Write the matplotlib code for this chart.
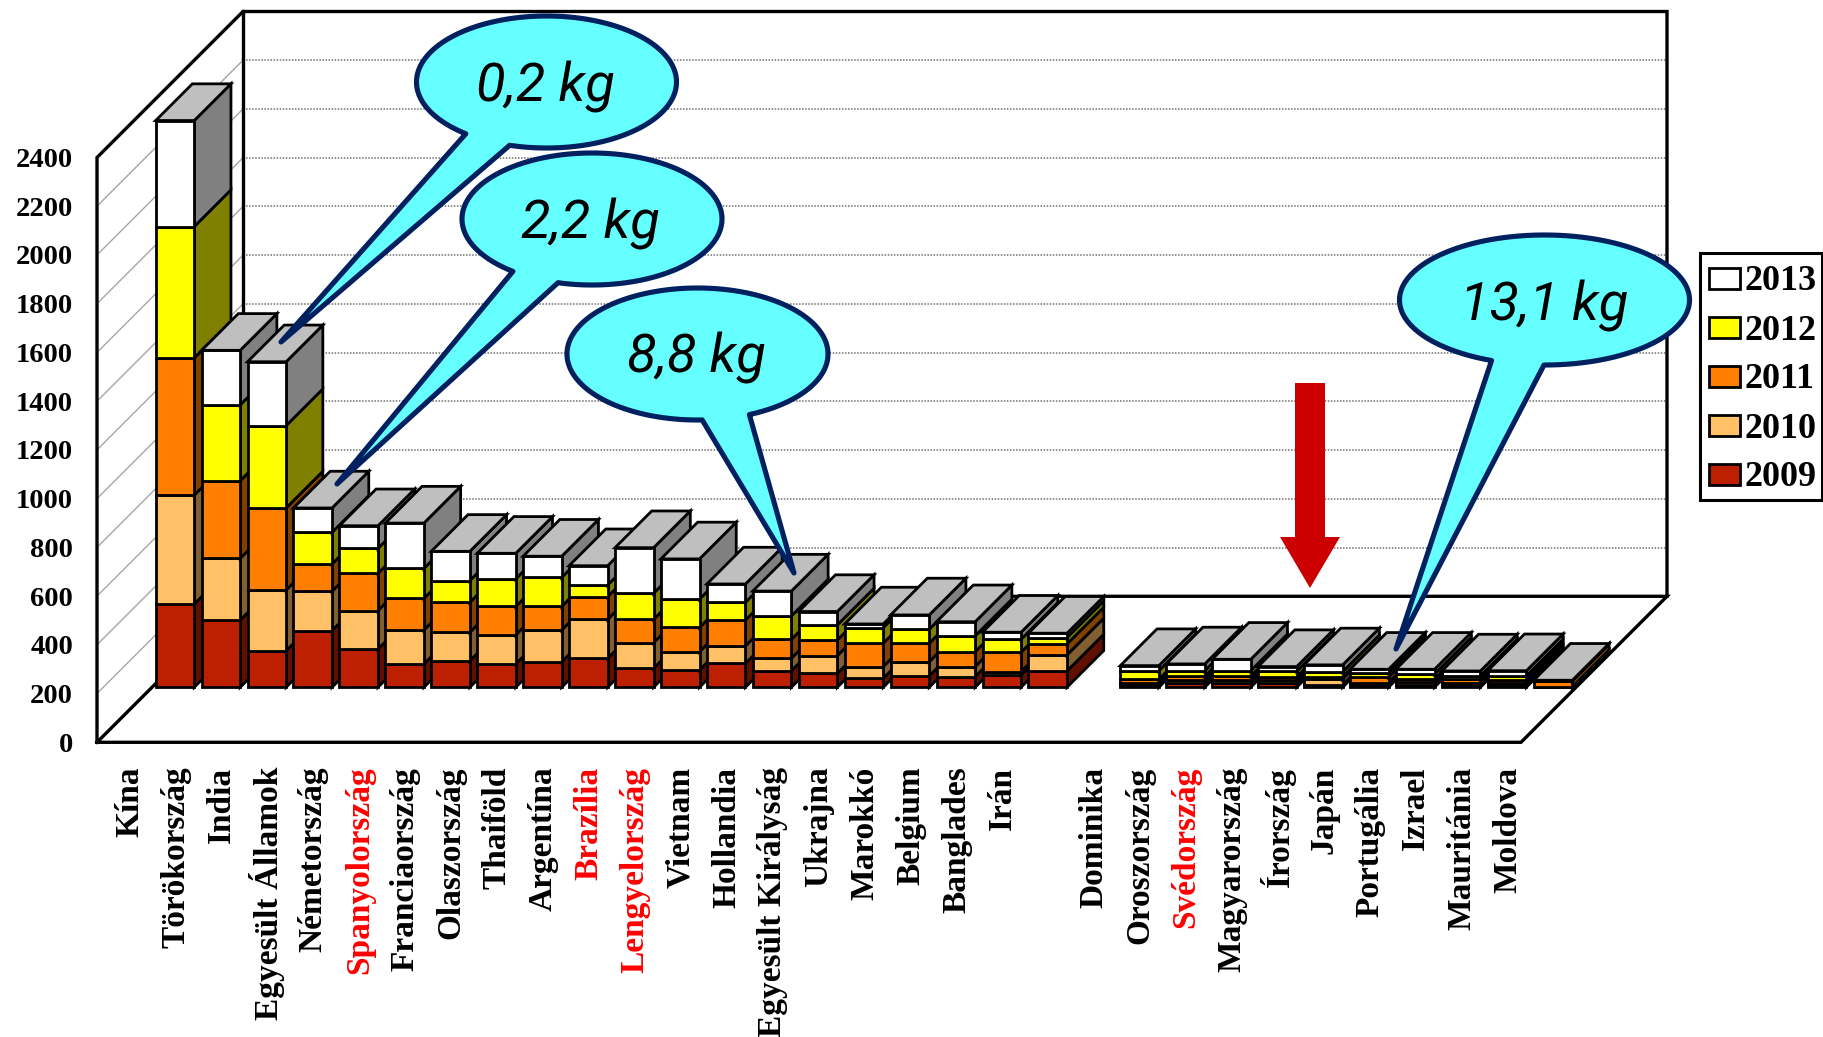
#Import packages
import numpy as np
import matplotlib
matplotlib.use("Agg")
import matplotlib.pyplot as plt
from matplotlib.patches import Polygon, Rectangle

#========================================================================================================
# Chart data
#========================================================================================================

categories = ["Kína", "Törökország", "India", "Egyesült Államok", "Németország", "Spanyolország",
              "Franciaország", "Olaszország", "Thaiföld", "Argentína", "Brazília", "Lengyelország",
              "Vietnam", "Hollandia", "Egyesült Királyság", "Ukrajna", "Marokkó", "Belgium", "Banglades",
              "Irán", "", "Dominika", "Oroszország", "Svédország", "Magyarország", "Írország", "Japán",
              "Portugália", "Izrael", "Mauritánia", "Moldova"]
red_labels = ["Spanyolország", "Brazília", "Lengyelország", "Svédország"]

values_2009 = [342, 276, 150, 233, 157, 96, 109, 96, 105, 119, 78, 71, 98, 68, 57, 37, 47, 44, 51, 67,
               0, 8, 16, 19, 16, 11, 11, 11, 11, 8, 1]
values_2010 = [447, 253, 249, 161, 158, 139, 117, 119, 130, 160, 105, 75, 72, 51, 73, 48, 58, 41, 13, 66,
               0, 8, 14, 11, 14, 23, 8, 9, 8, 10, 1]
values_2011 = [563, 319, 337, 112, 153, 130, 123, 117, 97, 93, 96, 100, 106, 78, 64, 96, 76, 61, 80, 45,
               0, 17, 16, 16, 14, 10, 23, 14, 14, 13, 25]
values_2012 = [539, 311, 338, 130, 102, 123, 89, 113, 119, 48, 107, 116, 73, 96, 62, 64, 57, 65, 53, 26,
               0, 35, 22, 22, 22, 20, 18, 20, 14, 16, 1]
values_2013 = [435, 224, 262, 100, 93, 186, 120, 105, 87, 79, 187, 165, 75, 102, 55, 15, 59, 58, 29, 18,
               0, 21, 28, 47, 19, 28, 14, 20, 20, 21, 1]

years = ["2009", "2010", "2011", "2012", "2013"]
series = [values_2009, values_2010, values_2011, values_2012, values_2013]

y_ticks = list(range(0, 2600, 200))

#========================================================================================================
# Styles and layout
#========================================================================================================

WIDTH, HEIGHT = 1823, 1037

#Oblique box layout, in output pixels
LEFT_PX = 97          #front left corner of the floor
FRONT_PX = 742.3      #front edge of the floor
PITCH = 1424 / 31     #pixels per category
PX_PER_UNIT = 584.8 / 2400
WALL_DEPTH = 146
BAR_NEAR = 55
BAR_FAR = 91.7
BAR_GAP = 0.08

front_colors = {"2009": "#BD2000", "2010": "#FFC066", "2011": "#FF8000", "2012": "#FFFF00", "2013": "#FFFFFF"}
side_colors = {"2009": "#5F1000", "2010": "#806033", "2011": "#804000", "2012": "#808000", "2013": "#808080"}
top_color = "#BFBFBF"
bar_lw = 2.0

serif = "Liberation Serif"
navy = "#002060"
cyan = "#66FFFF"


def project(x, value, depth):
    #Shift a floor position back along the box depth
    return (x + depth / PITCH, value + depth / PX_PER_UNIT)


def callout(axis, cx, cy, rx, ry, left, right, tip, label, text_xy):
    #Speech bubble: ellipse outline opened between two points, with a tail to the tip
    start = np.arctan2((left[1] - cy) / ry, (left[0] - cx) / rx)
    stop = np.arctan2((right[1] - cy) / ry, (right[0] - cx) / rx) + 2 * np.pi
    theta = np.linspace(start, stop, 200)
    outline = np.column_stack([cx + rx * np.cos(theta), cy + ry * np.sin(theta)])
    outline = np.vstack([outline, tip])
    axis.add_patch(Polygon(outline, closed=True, facecolor=cyan, edgecolor=navy, linewidth=3.7,
                           joinstyle="round", zorder=10))
    axis.text(text_xy[0], text_xy[1], label, family="Roboto", style="italic", fontsize=39,
              color="black", ha="center", va="center", zorder=11)


#========================================================================================================
# Create figure
#========================================================================================================

fig = plt.figure(figsize=(WIDTH / 100, HEIGHT / 100), dpi=100)

#Main axes: x in categories, y in chart units, zero at the front floor edge
ax = fig.add_axes([0, 0, 1, 1])
ax.set_xlim(-LEFT_PX / PITCH, (WIDTH - LEFT_PX) / PITCH)
ax.set_ylim(-(HEIGHT - FRONT_PX) / PX_PER_UNIT, FRONT_PX / PX_PER_UNIT)
ax.axis("off")

n = len(categories)
y_top = y_ticks[-1]

#Walls and grid
for tick in y_ticks[1:-1]:
    p0 = project(0, tick, 0)
    p1 = project(0, tick, WALL_DEPTH)
    p2 = project(n, tick, WALL_DEPTH)
    ax.plot([p0[0], p1[0]], [p0[1], p1[1]], color="#A6A6A6", lw=1.0, zorder=1)
    ax.plot([p1[0], p2[0]], [p1[1], p2[1]], color="#707070", lw=1.1, ls=(0, (1, 1)), zorder=1)

wall_paths = [
    [project(0, 0, 0), project(0, y_top, 0), project(0, y_top, WALL_DEPTH), project(n, y_top, WALL_DEPTH),
     project(n, 0, WALL_DEPTH)],
    [project(0, 0, WALL_DEPTH), project(0, y_top, WALL_DEPTH)],
    [project(0, 0, 0), project(0, 0, WALL_DEPTH), project(n, 0, WALL_DEPTH), project(n, 0, 0), project(0, 0, 0)],
]
for path in wall_paths:
    xs, ys = zip(*path)
    ax.plot(xs, ys, color="black", lw=2.4, solid_joinstyle="miter", zorder=2)

#Stacked bars, left to right so each front covers its neighbour's side
for i in range(n):
    if categories[i] == "":
        continue
    x0 = i + BAR_GAP
    x1 = i + 1 - BAR_GAP
    bottom = 0
    for year, values in zip(years, series):
        top = bottom + values[i]
        #side face
        side = [project(x1, bottom, BAR_NEAR), project(x1, bottom, BAR_FAR),
                project(x1, top, BAR_FAR), project(x1, top, BAR_NEAR)]
        ax.add_patch(Polygon(side, closed=True, facecolor=side_colors[year], edgecolor="black",
                             linewidth=bar_lw, joinstyle="miter", zorder=3))
        #front face
        front = [project(x0, bottom, BAR_NEAR), project(x1, bottom, BAR_NEAR),
                 project(x1, top, BAR_NEAR), project(x0, top, BAR_NEAR)]
        ax.add_patch(Polygon(front, closed=True, facecolor=front_colors[year], edgecolor="black",
                             linewidth=bar_lw, joinstyle="miter", zorder=3))
        bottom = top
    #top face
    cap = [project(x0, bottom, BAR_NEAR), project(x1, bottom, BAR_NEAR),
           project(x1, bottom, BAR_FAR), project(x0, bottom, BAR_FAR)]
    ax.add_patch(Polygon(cap, closed=True, facecolor=top_color, edgecolor="black",
                         linewidth=bar_lw, joinstyle="miter", zorder=3))

#Value axis labels, nudged down a little from their gridline
for tick in y_ticks:
    ax.text(-24 / PITCH, tick - 12, str(tick), family=serif, weight="bold", fontsize=20.5,
            ha="right", va="center")

#Category labels
for i, name in enumerate(categories):
    if name == "":
        continue
    color = "#FF0000" if name in red_labels else "black"
    ax.text(i + 0.71, -100, name, family=serif, weight="bold", fontsize=24, color=color,
            rotation=90, ha="center", va="top")

#========================================================================================================
# Overlay in pixel coordinates: arrow, callouts, legend
#========================================================================================================

over = fig.add_axes([0, 0, 1, 1])
over.set_xlim(0, WIDTH)
over.set_ylim(HEIGHT, 0)
over.axis("off")
over.patch.set_alpha(0)

#Red arrow
arrow = [(1295, 383), (1325, 383), (1325, 537), (1340, 537), (1310, 588), (1280, 537), (1295, 537)]
over.add_patch(Polygon(arrow, closed=True, facecolor="#CC0000", edgecolor="none", zorder=9))

#Callouts
callout(over, 546.5, 82, 130, 66, (467, 133), (511, 143), (281, 342), "0,2 kg", (545, 87))
callout(over, 592, 219, 130, 66, (515, 270), (560, 279), (337, 484), "2,2 kg", (590, 224))
callout(over, 697.5, 354, 130.5, 66, (702, 417), (748, 413), (794, 573), "8,8 kg", (696, 358))
callout(over, 1544.5, 300, 145, 65, (1492, 360), (1544, 364), (1396, 649), "13,1 kg", (1544, 306))

#Legend
over.add_patch(Rectangle((1700, 253), 122, 247, facecolor="white", edgecolor="black", linewidth=2.2, zorder=9))
for k, year in enumerate(years[::-1]):
    y = 268 + 49 * k
    over.add_patch(Rectangle((1709, y), 31, 21, facecolor=front_colors[year], edgecolor="black",
                             linewidth=2.0, zorder=10))
    over.text(1745, y + 14, year, family=serif, weight="bold", fontsize=26, ha="left", va="center", zorder=10)

plt.savefig("out.png", dpi=100)
plt.close()
